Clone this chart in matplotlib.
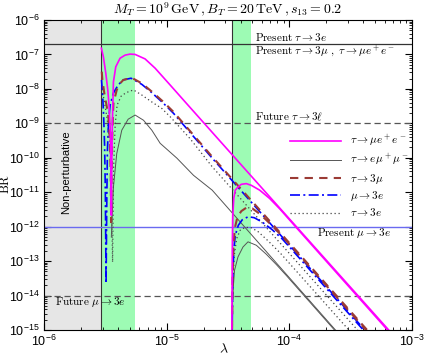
import numpy as np
import matplotlib.pyplot as plt
from matplotlib.ticker import LogLocator, NullFormatter

plt.rcParams['font.family'] = 'Liberation Sans'
plt.rcParams['mathtext.fontset'] = 'custom'
plt.rcParams['mathtext.rm'] = 'Liberation Sans'
plt.rcParams['mathtext.it'] = 'Liberation Sans:italic'
plt.rcParams['mathtext.bf'] = 'Liberation Sans:bold'

# curves, stored as log10(lambda) and log10(BR)
# tau -> mu e+ e-
mee1_lam = [-5.532, -5.516, -5.496, -5.480, -5.469, -5.461, -5.456, -5.451, -5.447, -5.443, -5.434, -5.415,
            -5.380, -5.339, -5.298, -5.257, -5.176, -5.094, -4.971, -4.849, -4.629, -3.943, -3.135]
mee1_br = [-6.82, -7.07, -7.55, -8.03, -8.52, -9.10, -10.07, -11.67, -10.07, -9.05, -7.80, -7.36,
           -7.11, -7.02, -6.99, -7.00, -7.13, -7.40, -7.89, -8.38, -9.26, -12.00, -15.22]
mee2_lam = [-4.470, -4.465, -4.461, -4.453, -4.441, -4.419, -4.392, -4.351, -4.310, -4.242, -4.161, -4.079,
            -3.992, -3.135]
mee2_br = [-16.0, -12.69, -11.67, -11.17, -10.94, -10.85, -10.77, -10.75, -10.80, -10.94, -11.18, -11.48,
           -11.83, -15.26]

# tau -> e mu+ mu-
emm1_lam = [-5.451, -5.445, -5.434, -5.407, -5.366, -5.314, -5.257, -5.189, -5.121, -5.053, -4.917, -4.781,
            -4.629, -3.300]
emm1_br = [-12.3, -11.73, -10.85, -9.88, -9.20, -8.88, -8.76, -8.91, -9.20, -9.58, -10.01, -10.51,
           -10.94, -16.31]
emm2_lam = [-4.470, -4.465, -4.447, -4.419, -4.378, -4.337, -4.269, -4.188, -4.106, -4.024, -3.300]
emm2_br = [-16.0, -14.14, -13.27, -12.88, -12.59, -12.44, -12.54, -12.80, -13.10, -13.42, -16.34]

# tau -> 3 mu
t3m1_lam = [-5.529, -5.524, -5.508, -5.488, -5.475, -5.463, -5.456, -5.453, -5.449, -5.442, -5.434, -5.407,
            -5.380, -5.353, -5.284, -5.202, -5.121, -5.026, -4.944, -4.629, -3.135]
t3m1_br = [-7.50, -7.74, -8.13, -8.52, -8.81, -9.49, -10.51, -11.87, -10.51, -9.20, -8.42, -8.03,
           -7.84, -7.74, -7.68, -7.84, -8.08, -8.38, -8.67, -9.97, -15.92]
t3m2_lam = [-4.470, -4.463, -4.457, -4.445, -4.424, -4.392, -4.351, -4.302, -4.237, -4.155, -4.073, -3.992,
            -3.135]
t3m2_br = [-16.0, -13.56, -12.69, -12.05, -11.73, -11.55, -11.45, -11.47, -11.64, -11.92, -12.22, -12.54,
           -15.96]

# mu -> 3e
m3e1_lam = [-5.531, -5.522, -5.514, -5.506, -5.500, -5.494, -5.488, -5.483, -5.473, -5.461, -5.434, -5.396,
            -5.355, -5.290, -5.202, -5.121, -5.026, -4.944, -4.629, -3.355, -3.135]
m3e1_br = [-7.74, -8.18, -8.76, -9.63, -10.94, -13.65, -11.23, -9.78, -8.91, -8.47, -8.12, -7.89,
           -7.74, -7.69, -7.87, -8.11, -8.42, -8.71, -10.01, -15.12, -16.0]
m3e2_lam = [-4.470, -4.461, -4.453, -4.441, -4.416, -4.384, -4.335, -4.286, -4.220, -4.139, -4.057, -3.976,
            -3.135]
m3e2_br = [-16.0, -13.41, -12.69, -12.25, -11.96, -11.80, -11.71, -11.74, -11.87, -12.09, -12.36, -12.68,
           -16.05]

# tau -> 3e
t3e1_lam = [-5.531, -5.510, -5.486, -5.465, -5.453, -5.441, -5.433, -5.420, -5.404, -5.371, -5.331, -5.271,
            -5.202, -5.121, -5.039, -4.971, -4.808, -4.629, -3.135]
t3e1_br = [-7.89, -8.33, -8.85, -9.49, -10.36, -13.03, -10.36, -9.05, -8.47, -8.21, -8.11, -8.03,
           -8.18, -8.38, -8.57, -8.81, -9.45, -10.26, -16.24]
t3e2_lam = [-4.470, -4.461, -4.449, -4.429, -4.400, -4.359, -4.310, -4.253, -4.171, -4.073, -3.135]
t3e2_br = [-16.0, -13.70, -12.83, -12.34, -12.10, -12.02, -12.03, -12.15, -12.42, -12.77, -16.52]

# regions and experimental limits
nonpert_max = 2.92e-6
green_bands = [(2.92e-6, 5.53e-6), (3.38e-5, 4.83e-5)]
present_tau = 2.0e-7
future_tau = 1e-9
present_mu = 1e-12
future_mu = 1e-14


def pts(lam, br):
    return 10 ** np.array(lam), 10 ** np.array(br)


fig = plt.figure(figsize=(4.25, 3.57), dpi=100)
ax = fig.add_axes([0.1035, 0.0756, 0.866, 0.8684])

ax.axvspan(1e-6, nonpert_max, color='#e6e6e6', lw=0, zorder=0)
for a, b in green_bands:
    ax.axvspan(a, b, color='#9dfbb4', lw=0, zorder=0)
    ax.axvline(a, color='#333333', lw=0.8, zorder=1)

ax.axhline(present_tau, color='#333333', lw=0.9)
ax.axhline(future_tau, color='#555555', lw=0.9, dashes=(5, 3))
ax.axhline(future_mu, color='#555555', lw=0.9, dashes=(5, 3))
ax.axhline(present_mu, color='#6a6af0', lw=1.0)

dot_kw = dict(color='#444444', lw=0.9, dashes=(1, 2.2))
gray_kw = dict(color='#555555', lw=0.7)
blue_kw = dict(color='#0000ff', lw=1.2, dashes=(6, 2, 1.2, 2))
brown_kw = dict(color='#9b3b35', lw=1.5, dashes=(4, 3))
mag_kw = dict(color='#ff00ff', lw=1.2)

ax.plot(*pts(t3e1_lam, t3e1_br), label=r'$\tau \to 3e$', **dot_kw)
ax.plot(*pts(t3e2_lam, t3e2_br), **dot_kw)
ax.plot(*pts(emm1_lam, emm1_br), label=r'$\tau \to e\mu^+\mu^-$', **gray_kw)
ax.plot(*pts(emm2_lam, emm2_br), **gray_kw)
ax.plot(*pts(m3e1_lam, m3e1_br), label=r'$\mu \to 3e$', **blue_kw)
ax.plot(*pts(m3e2_lam, m3e2_br), **blue_kw)
ax.plot(*pts(t3m1_lam, t3m1_br), label=r'$\tau \to 3\mu$', **brown_kw)
ax.plot(*pts(t3m2_lam, t3m2_br), **brown_kw)
ax.plot(*pts(mee1_lam, mee1_br), label=r'$\tau \to \mu e^+ e^-$', **mag_kw)
ax.plot(*pts(mee2_lam, mee2_br), **mag_kw)

ax.set_xscale('log')
ax.set_yscale('log')
ax.set_xlim(1e-6, 1e-3)
ax.set_ylim(1e-15, 1e-6)
ax.xaxis.set_major_locator(LogLocator(base=10, numticks=10))
ax.yaxis.set_major_locator(LogLocator(base=10, numticks=12))
ax.xaxis.set_minor_locator(LogLocator(base=10, subs=np.arange(2, 10), numticks=20))
ax.yaxis.set_minor_locator(LogLocator(base=10, subs=np.arange(2, 10), numticks=20))
ax.yaxis.set_minor_formatter(NullFormatter())
ax.xaxis.set_minor_formatter(NullFormatter())
ax.tick_params(which='both', direction='in', top=True, right=True, labelsize=9)
ax.tick_params(which='major', length=5, width=0.8)
ax.tick_params(which='minor', length=2.5, width=0.6)
ax.tick_params(axis='x', pad=2.5)
ax.tick_params(axis='y', pad=3)

ax.set_title(r'$M_T = 10^9\,\mathrm{GeV}\,, B_T = 20\,\mathrm{TeV}\,, s_{13} = 0.2$',
             fontsize=10, math_fontfamily='cm', pad=5)
ax.set_ylabel(r'$\mathrm{BR}$', fontsize=9, math_fontfamily='cm')
ax.yaxis.set_label_coords(-0.087, 0.47)
ax.set_xlabel(r'$\lambda$', fontsize=10, math_fontfamily='cm')
ax.xaxis.set_label_coords(0.489, -0.04)

lab = dict(fontsize=8, math_fontfamily='cm', va='center')
ax.text(5.27e-5, 3.2e-7, r'$\mathrm{Present}\ \tau \to 3e$', **lab)
ax.text(5.27e-5, 1.26e-7, r'$\mathrm{Present}\ \tau \to 3\mu\ ,\ \tau \to \mu e^+ e^-$', **lab)
ax.text(5.27e-5, 1.55e-9, r'$\mathrm{Future}\ \tau \to 3\ell$', **lab)
ax.text(1.69e-4, 6.5e-13, r'$\mathrm{Present}\ \mu \to 3e$', **lab)
ax.text(1.23e-6, 6.3e-15, r'$\mathrm{Future}\ \mu \to 3e$', **lab)
ax.text(1.51e-6, 3.8e-11, 'Non-perturbative', rotation=90, fontsize=8, ha='center', va='center')

h, l = ax.get_legend_handles_labels()
order = [4, 1, 3, 2, 0]
leg = ax.legend([h[i] for i in order], [l[i] for i in order], loc='upper left',
                bbox_to_anchor=(0.668, 0.635), frameon=False, fontsize=8, handlelength=4.6,
                handletextpad=0.8, labelspacing=0.3, borderpad=0, borderaxespad=0)
for t in leg.get_texts():
    t.set_math_fontfamily('cm')

fig.savefig('out.png', dpi=100)
